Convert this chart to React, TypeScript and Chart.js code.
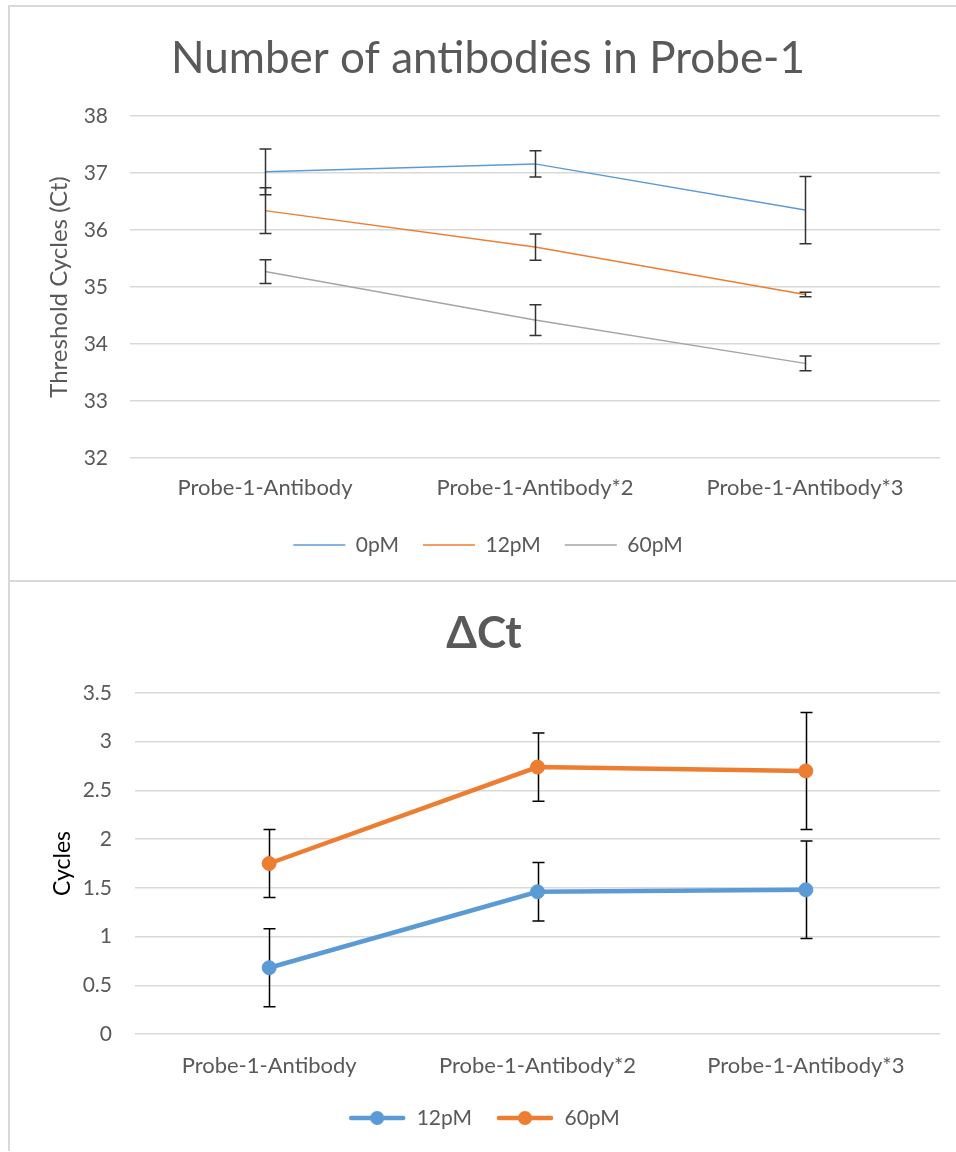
import { useEffect, useRef } from "react";
import { Chart, registerables } from "chart.js";

Chart.register(...registerables);

const FONT = "Lato, 'Open Sans', sans-serif";
const TEXT = "#595959";
const GRID = "#D9D9D9";
const BLUE = "#5B9BD5";
const ORANGE = "#ED7D31";
const GRAY = "#A5A5A5";

// Shared categories
const categories = ["Probe-1-Antibody", "Probe-1-Antibody*2", "Probe-1-Antibody*3"];

// Threshold cycles (Ct) per concentration, with standard deviations
const ctSeriesNames = ["0pM", "12pM", "60pM"];
const ct0pM = [37.02, 37.16, 36.35];
const ct12pM = [36.34, 35.7, 34.87];
const ct60pM = [35.27, 34.42, 33.66];
const ct0pMErr = [0.4, 0.23, 0.59];
const ct12pMErr = [0.4, 0.23, 0.04];
const ct60pMErr = [0.21, 0.27, 0.13];
const ctTicks = [32, 33, 34, 35, 36, 37, 38];

// ΔCt per concentration, with standard deviations
const dctSeriesNames = ["12pM", "60pM"];
const dct12pM = [0.68, 1.46, 1.48];
const dct60pM = [1.75, 2.74, 2.7];
const dct12pMErr = [0.4, 0.3, 0.5];
const dct60pMErr = [0.35, 0.35, 0.6];
const dctTicks = [0, 0.5, 1, 1.5, 2, 2.5, 3, 3.5];

// Vertical error bars with caps, positioned through the chart scales
function drawErrorBars(chart: any, opts: any) {
  const { ctx } = chart;
  const x = chart.scales.x;
  const y = chart.scales.y;
  ctx.save();
  ctx.strokeStyle = opts.color;
  ctx.lineWidth = opts.width;
  chart.data.datasets.forEach((ds: any, di: number) => {
    const errs = opts.errors[di];
    if (!errs) return;
    ds.data.forEach((v: number, i: number) => {
      const px = Math.round(x.getPixelForValue(i)) + 0.5;
      const hi = y.getPixelForValue(v + errs[i]);
      const lo = y.getPixelForValue(v - errs[i]);
      const c = opts.cap;
      ctx.beginPath();
      ctx.moveTo(px, hi);
      ctx.lineTo(px, lo);
      ctx.moveTo(px - c, hi);
      ctx.lineTo(px + c, hi);
      ctx.moveTo(px - c, lo);
      ctx.lineTo(px + c, lo);
      ctx.stroke();
    });
  });
  ctx.restore();
}

const errorBarPlugin = {
  id: "errorBars",
  beforeDatasetsDraw(chart: any, _a: any, opts: any) {
    if (opts && opts.layer === "before") drawErrorBars(chart, opts);
  },
  afterDatasetsDraw(chart: any, _a: any, opts: any) {
    if (opts && opts.layer === "after") drawErrorBars(chart, opts);
  },
};

// Legend icon: a thick line with a round marker in the middle
function lineMarkerIcon(color: string) {
  const c = document.createElement("canvas");
  c.width = 58;
  c.height = 18;
  const g = c.getContext("2d")!;
  g.strokeStyle = color;
  g.lineWidth = 4.5;
  g.lineCap = "round";
  g.beginPath();
  g.moveTo(3, 9);
  g.lineTo(55, 9);
  g.stroke();
  g.fillStyle = color;
  g.beginPath();
  g.arc(29, 9, 7, 0, Math.PI * 2);
  g.fill();
  return c;
}

const plainNumber = (v: any) => String(v);

function ctConfig(): any {
  const tickFont = { family: FONT, size: 21 };
  const catFont = { family: FONT, size: 22 };
  return {
    type: "line",
    data: {
      labels: categories,
      datasets: [
        { label: ctSeriesNames[0], data: ct0pM, borderColor: BLUE, backgroundColor: BLUE },
        { label: ctSeriesNames[1], data: ct12pM, borderColor: ORANGE, backgroundColor: ORANGE },
        { label: ctSeriesNames[2], data: ct60pM, borderColor: GRAY, backgroundColor: GRAY },
      ].map((d) => ({ ...d, borderWidth: 1.5, pointRadius: 0, tension: 0 })),
    },
    options: {
      responsive: false,
      animation: false,
      layout: { padding: { left: 26, right: 16, top: 0, bottom: 14.5 } },
      plugins: {
        title: {
          display: true,
          text: "Number of antibodies in Probe-1",
          color: TEXT,
          font: { family: FONT, size: 44, weight: "normal", lineHeight: 1.2 },
          padding: { top: 25, bottom: 31.2 },
        },
        legend: {
          position: "bottom",
          labels: {
            usePointStyle: true,
            pointStyle: "line",
            pointStyleWidth: 52,
            padding: 24,
            color: TEXT,
            font: { family: FONT, size: 21 },
          },
        },
        tooltip: { enabled: false },
        errorBars: {
          layer: "after",
          errors: [ct0pMErr, ct12pMErr, ct60pMErr],
          color: "#333333",
          width: 1.5,
          cap: 6,
        },
      },
      scales: {
        x: {
          offset: true,
          grid: { display: false },
          border: { display: false },
          ticks: { color: TEXT, font: catFont, padding: 9, maxRotation: 0, autoSkip: false },
          afterFit: (s: any) => {
            s.height = 52.5;
          },
        },
        y: {
          min: ctTicks[0],
          max: ctTicks[ctTicks.length - 1],
          afterBuildTicks: (s: any) => {
            s.ticks = ctTicks.map((v) => ({ value: v }));
          },
          grid: { color: GRID, lineWidth: 1.5, drawTicks: false },
          border: { display: false },
          ticks: { color: TEXT, font: tickFont, padding: 22, callback: plainNumber },
          title: {
            display: true,
            text: "Threshold Cycles (Ct)",
            color: TEXT,
            font: { family: FONT, size: 24 },
            padding: { top: 9, bottom: 0 },
          },
          afterFit: (s: any) => {
            s.width = 94;
          },
        },
      },
    },
    plugins: [errorBarPlugin],
  };
}

function dctConfig(): any {
  const tickFont = { family: FONT, size: 21 };
  const catFont = { family: FONT, size: 22 };
  const icons = [lineMarkerIcon(BLUE), lineMarkerIcon(ORANGE)];
  return {
    type: "line",
    data: {
      labels: categories,
      datasets: [
        { label: dctSeriesNames[0], data: dct12pM, borderColor: BLUE, backgroundColor: BLUE },
        { label: dctSeriesNames[1], data: dct60pM, borderColor: ORANGE, backgroundColor: ORANGE },
      ].map((d) => ({
        ...d,
        borderWidth: 4.5,
        pointRadius: 7,
        pointBorderWidth: 1,
        pointBorderColor: d.borderColor,
        tension: 0,
      })),
    },
    options: {
      responsive: false,
      animation: false,
      layout: { padding: { left: 18, right: 16, top: 0, bottom: 12.5 } },
      plugins: {
        title: {
          display: true,
          text: "ΔCt",
          color: TEXT,
          font: { family: FONT, size: 44, weight: "bold", lineHeight: 1.2 },
          padding: { top: 25, bottom: 33.2 },
        },
        legend: {
          position: "bottom",
          labels: {
            usePointStyle: true,
            pointStyleWidth: 58,
            padding: 24,
            color: TEXT,
            font: { family: FONT, size: 21 },
            generateLabels: (chart: any) =>
              Chart.defaults.plugins.legend.labels
                .generateLabels(chart)
                .map((item: any, i: number) => ({ ...item, pointStyle: icons[i] })),
          },
        },
        tooltip: { enabled: false },
        errorBars: {
          layer: "before",
          errors: [dct12pMErr, dct60pMErr],
          color: "#000000",
          width: 1.5,
          cap: 6,
        },
      },
      scales: {
        x: {
          offset: true,
          grid: { display: false },
          border: { display: false },
          ticks: { color: TEXT, font: catFont, padding: 11, maxRotation: 0, autoSkip: false },
          afterFit: (s: any) => {
            s.height = 49.5;
          },
        },
        y: {
          min: dctTicks[0],
          max: dctTicks[dctTicks.length - 1],
          afterBuildTicks: (s: any) => {
            s.ticks = dctTicks.map((v) => ({ value: v }));
          },
          grid: { color: GRID, lineWidth: 1.5, drawTicks: false },
          border: { display: false },
          ticks: { color: TEXT, font: tickFont, padding: 23, callback: plainNumber },
          title: {
            display: true,
            text: "Cycles",
            color: "#000000",
            font: { family: FONT, size: 23 },
            padding: { top: 21, bottom: 0 },
          },
          afterFit: (s: any) => {
            s.width = 107;
          },
        },
      },
    },
    plugins: [errorBarPlugin],
  };
}

function ChartCanvas({ width, height, build }: { width: number; height: number; build: () => any }) {
  const ref = useRef<HTMLCanvasElement>(null);
  useEffect(() => {
    if (!ref.current) return;
    const chart = new Chart(ref.current, build());
    return () => chart.destroy();
  }, [build]);
  return <canvas ref={ref} width={width} height={height} style={{ display: "block" }} />;
}

const frame = {
  borderLeft: `2px solid ${GRID}`,
  borderTop: `2px solid ${GRID}`,
  background: "#ffffff",
};

export default function App() {
  return (
    <div style={{ position: "absolute", left: 8, top: 5, right: 0 }}>
      <div style={frame}>
        <ChartCanvas width={946} height={573} build={ctConfig} />
      </div>
      <div style={frame}>
        <ChartCanvas width={946} height={569} build={dctConfig} />
      </div>
    </div>
  );
}
